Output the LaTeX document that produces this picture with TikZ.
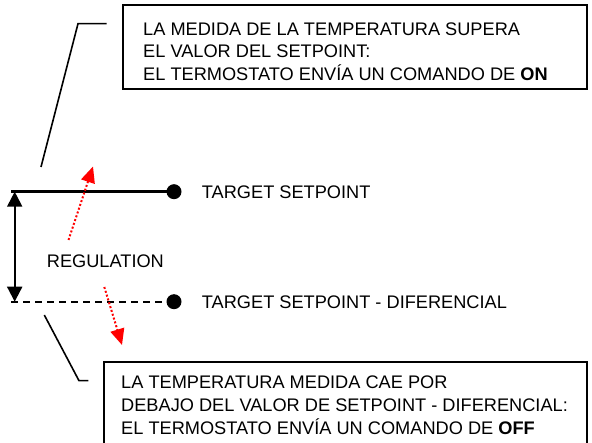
\documentclass[tikz,border=0pt]{standalone}
\usepackage{fontspec}
\setmainfont{Liberation Sans}
\usetikzlibrary{arrows.meta}
\begin{document}
\begin{tikzpicture}[x=1pt,y=-1pt,
  boxst/.style={draw, line width=1.8pt, inner sep=0pt, rectangle},
  txt/.style={anchor=base west, inner sep=0pt, font=\fontsize{18.2}{22.5}\selectfont},
  dotst/.style={circle, fill, inner sep=0pt, minimum size=15pt},
  leader/.style={line width=1.6pt},
  redarr/.style={red, line width=2pt, dash pattern=on 2pt off 2pt, -{Triangle[length=16pt,width=14pt]}},
  blkarr/.style={line width=2pt, {Triangle[length=15pt,width=15pt]}-{Triangle[length=15pt,width=15pt]}}
]
\useasboundingbox (0,0) rectangle (592,443);

% boxes
\node[boxst, minimum width=464pt, minimum height=84pt] (onbox) at (355,47) {};
\node[boxst, minimum width=483pt, minimum height=100pt] (offbox) at (345.5,412) {};

% box texts
\node[txt] (ontext) at (143,35.5) {\begin{tabular}[t]{@{}l@{}}LA MEDIDA DE LA TEMPERATURA SUPERA\\EL VALOR DEL SETPOINT:\\EL TERMOSTATO ENVÍA UN COMANDO DE \textbf{ON}\end{tabular}};
\node[txt] (offtext) at (121,389) {\begin{tabular}[t]{@{}l@{}}LA TEMPERATURA MEDIDA CAE POR\\DEBAJO DEL VALOR DE SETPOINT - DIFERENCIAL:\\EL TERMOSTATO ENVÍA UN COMANDO DE \textbf{OFF}\end{tabular}};

% setpoint lines
\coordinate (spstart) at (11,191.7);
\coordinate (dfstart) at (11,301.7);
\node[dotst] (spdot) at (174,191.7) {};
\node[dotst] (dfdot) at (174,301.7) {};
\draw[line width=3pt] (spstart) -- (spdot.center);
\draw[line width=2pt, dash pattern=on 7pt off 5pt] (dfstart) -- (dfdot.center);

\node[txt] (sptext) at (201.7,199) {TARGET SETPOINT};
\node[txt] (dftext) at (201.7,309) {TARGET SETPOINT - DIFERENCIAL};
\node[txt] (reg) at (46.7,268) {REGULATION};

% regulation arrow
\coordinate (vtop) at (14.7,191.7);
\coordinate (vbot) at (14.7,301.7);
\draw[blkarr] (vtop) -- (vbot);

% leaders
\coordinate (la1) at (41,167);
\coordinate (la2) at (78,23.7);
\coordinate (la3) at (106.7,23.7);
\draw[leader] (la1) -- (la2) -- (la3);
\coordinate (lb1) at (44.3,315);
\coordinate (lb2) at (79,380.7);
\coordinate (lb3) at (88.3,380.7);
\draw[leader] (lb1) -- (lb2) -- (lb3);

% red arrows
\coordinate (ra1) at (68.5,240);
\coordinate (ra2) at (93,166.5);
\draw[redarr] (ra1) -- (ra2);
\coordinate (rb1) at (104.3,287);
\coordinate (rb2) at (122,345);
\draw[redarr] (rb1) -- (rb2);
\end{tikzpicture}
\end{document}
